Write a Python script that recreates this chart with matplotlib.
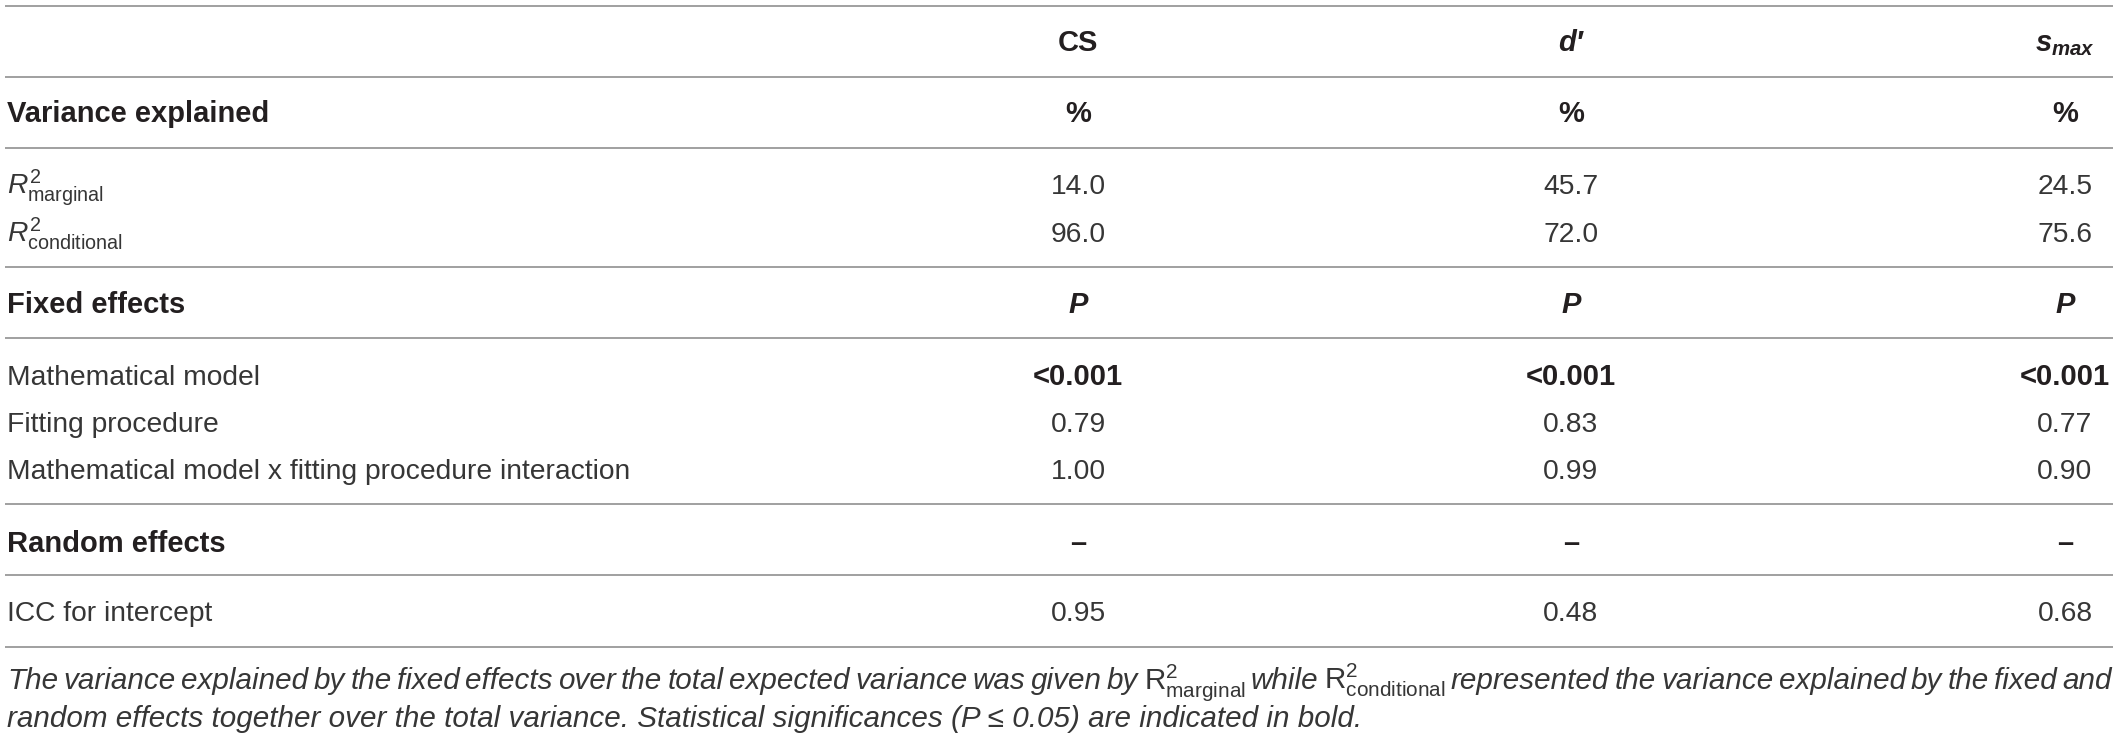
import matplotlib.pyplot as plt

plt.rcParams['font.family'] = 'Liberation Sans'
plt.rcParams['mathtext.fontset'] = 'custom'
plt.rcParams['mathtext.rm'] = 'Liberation Sans'
plt.rcParams['mathtext.it'] = 'Liberation Sans:italic'
plt.rcParams['mathtext.bf'] = 'Liberation Sans:bold'
plt.rcParams['mathtext.bfit'] = 'Liberation Sans:italic:bold'

# table content
col_names = ['CS', 'd′', r'$\mathbfit{s}_{\mathbfit{max}}$']
sections = ['Variance explained', 'Fixed effects', 'Random effects']
section_units = ['%', 'P', '–']
row_labels = [r'$R^2_{\mathrm{marginal}}$', r'$R^2_{\mathrm{conditional}}$',
              'Mathematical model', 'Fitting procedure',
              'Mathematical model x fitting procedure interaction',
              'ICC for intercept']
cs_vals = ['14.0', '96.0', '<0.001', '0.79', '1.00', '0.95']
d_vals = ['45.7', '72.0', '<0.001', '0.83', '0.99', '0.48']
smax_vals = ['24.5', '75.6', '<0.001', '0.77', '0.90', '0.68']
footnote = [
    'The variance explained by the fixed effects over the total expected variance was given by '
    r'$\mathrm{R}^2_{\mathrm{marginal}}$ while $\mathrm{R}^2_{\mathrm{conditional}}$ '
    'represented the variance explained by the fixed and',
    'random effects together over the total variance. Statistical significances (P ≤ 0.05) '
    'are indicated in bold.',
]

# layout (pixels)
W, H = 2119, 738
col_x = [1078, 1571, 2065]
left_x = 7
header_y = 51
section_y = [122, 313, 552]
row_y = [194, 242, 385, 432, 479, 621]
rule_y = [6, 77, 148, 267, 338, 504, 575, 647]
foot_y = [689, 727]
fs_bold = 21
fs_body = 20.3
fs_foot = 21.3
dark = '#231f20'
body = '#363636'

fig = plt.figure(figsize=(W / 100, H / 100), dpi=100)
ax = fig.add_axes([0, 0, 1, 1])
ax.set_xlim(0, W)
ax.set_ylim(H, 0)
ax.axis('off')

for y in rule_y:
    ax.plot([5, 2113], [y, y], color='#a0a0a0', lw=1.4, solid_capstyle='butt')

# header
for x, name in zip(col_x, col_names):
    style = 'normal' if name == 'CS' else 'italic'
    ax.text(x, header_y, name, ha='center', va='baseline', fontsize=fs_bold,
            fontweight='bold', fontstyle=style, color=dark)

for y, sec, unit in zip(section_y, sections, section_units):
    ax.text(left_x, y, sec, ha='left', va='baseline', fontsize=fs_bold,
            fontweight='bold', color=dark)
    for x in col_x:
        ax.text(x, y, unit, ha='center', va='baseline', fontsize=fs_bold,
                fontweight='bold', fontstyle='italic' if unit == 'P' else 'normal',
                color=dark)

for i, label in enumerate(row_labels):
    y = row_y[i]
    ax.text(left_x, y, label, ha='left', va='baseline', fontsize=fs_body, color=body)
    for x, vals in zip(col_x, [cs_vals, d_vals, smax_vals]):
        v = vals[i]
        sig = v.startswith('<') or float(v) <= 0.05 and i >= 2
        ax.text(x, y, v, ha='center', va='baseline',
                fontsize=fs_bold if sig else fs_body,
                fontweight='bold' if sig else 'normal', color=dark if sig else body)

# footnote, first line justified
words = footnote[0].replace('$ while', '$\nwhile').split(' ')
tokens = []
for w in words:
    tokens.extend(w.split('\n'))
texts = []
for t in tokens:
    is_math = t.startswith('$')
    texts.append(ax.text(0, foot_y[0], t, ha='left', va='baseline', fontsize=fs_foot,
                         fontstyle='normal' if is_math else 'italic', color=body))
fig.canvas.draw()
renderer = fig.canvas.get_renderer()
widths = [t.get_window_extent(renderer).width for t in texts]
gap = (2112 - left_x - sum(widths)) / (len(texts) - 1)
x = left_x
for t, w in zip(texts, widths):
    t.set_x(x)
    x += w + gap

ax.text(left_x, foot_y[1], footnote[1], ha='left', va='baseline', fontsize=fs_foot,
        fontstyle='italic', color=body)

fig.savefig('out.png', dpi=100)
